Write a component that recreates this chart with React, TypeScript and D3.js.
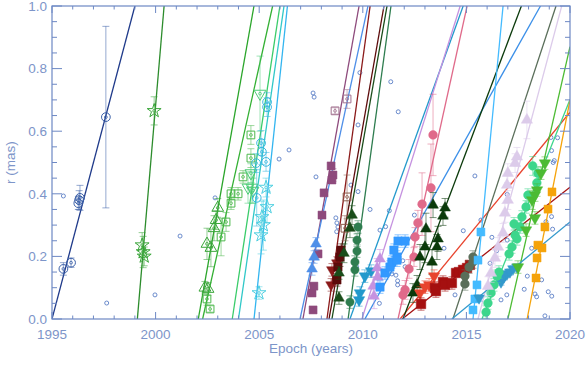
import React from 'react';
import * as d3 from 'd3';

// ---------- tick labels ----------
const xTickYears = [1995, 2000, 2005, 2010, 2015, 2020];
const yTickValues = [0.0, 0.2, 0.4, 0.6, 0.8, 1.0];

// ---------- component positions: [epoch, r (mas), error] ----------
const c01 = [[1995.55,0.16,0.02],[1995.92,0.18,0.015],[1996.27,0.37,0.02],[1996.35,0.387,0.04],[1996.31,0.38,0.03],[1997.6,0.645,0.29]];
const c02 = [[1999.4,0.214,0.05],[1999.35,0.236,0.04],[1999.45,0.2,0.03],[1999.93,0.665,0.045]];
const c03 = [[2002.38,0.10,0.02],[2002.53,0.096,0.02],[2002.48,0.24,0.05],[2002.67,0.227,0.06],[2002.82,0.29,0.04],[2002.92,0.316,0.03],[2003.0,0.355,0.03]];
const c04 = [[2002.63,0.032,0.01],[2002.48,0.064,0.02],[2003.16,0.262,0.06],[2003.4,0.31,0.03],[2003.64,0.37,0.02],[2003.64,0.40,0.02],[2003.98,0.40,0.02],[2004.22,0.454,0.02],[2004.6,0.514,0.03],[2004.6,0.588,0.03]];
const c05 = [[2004.46,0.42,0.05],[2004.65,0.42,0.05],[2004.6,0.466,0.03],[2004.7,0.41,0.04],[2005.04,0.72,0.12]];
const c06 = [[2005.09,0.268,0.06],[2005.13,0.326,0.05],[2005.38,0.358,0.05],[2005.33,0.42,0.03],[2004.99,0.083,0.02],[2005.2,0.30,0.08]];
const c07 = [[2005.38,0.693,0.03],[2005.38,0.677,0.03],[2005.09,0.562,0.04],[2005.13,0.534,0.04],[2005.33,0.502,0.03],[2004.88,0.387,0.09],[2004.85,0.498,0.03]];
const c08 = [[2007.6,0.029,0.01],[2007.55,0.083,0.01],[2007.64,0.105,0.01],[2007.84,0.208,0.01],[2008.03,0.332,0.01],[2008.13,0.403,0.01],[2008.47,0.489,0.01],[2008.56,0.46,0.02],[2008.51,0.444,0.01]];
const c08b = [[2008.66,0.665,0.01],[2009.24,0.703,0.03]];
const c09 = [[2007.55,0.16,0.02],[2007.65,0.198,0.02],[2007.74,0.24,0.02]];
const c10 = [[2008.47,0.109,0.02],[2008.51,0.157,0.02],[2008.75,0.179,0.02]];
const c11 = [[2008.75,0.125,0.02],[2008.8,0.166,0.03],[2008.9,0.198,0.03],[2008.95,0.22,0.02]];
const c11b = [[2009.14,0.29,0.04],[2009.24,0.39,0.07]];
const c12 = [[2008.85,0.067,0.02],[2008.85,0.147,0.02],[2009.09,0.21,0.03],[2009.38,0.29,0.03],[2009.48,0.332,0.03]];
const c13 = [[2009.38,0.054,0.02],[2009.62,0.157,0.02],[2009.62,0.182,0.02],[2009.72,0.217,0.02],[2009.72,0.252,0.02],[2009.77,0.294,0.02]];
const c14 = [[2009.82,0.061,0.02],[2009.86,0.083,0.02],[2010.1,0.137,0.02],[2010.4,0.153,0.02]];
const c15 = [[2010.54,0.073,0.04],[2010.5,0.105,0.03],[2010.69,0.163,0.03],[2010.73,0.134,0.03],[2010.83,0.192,0.03]];
const c16 = [[2010.83,0.102,0.02],[2011.07,0.147,0.02],[2011.31,0.166,0.02],[2011.4,0.182,0.02],[2011.65,0.198,0.02],[2011.65,0.188,0.02],[2011.7,0.249,0.02],[2012.04,0.249,0.02],[2011.5,0.22,0.02]];
const c17 = [[2011.94,0.077,0.03],[2012.04,0.093,0.03],[2012.23,0.16,0.03],[2012.47,0.198,0.03],[2012.52,0.262,0.03],[2012.66,0.307,0.04],[2012.86,0.367,0.1],[2013.29,0.419,0.14],[2013.39,0.588,0.13]];
const c18 = [[2012.42,0.083,0.03],[2012.62,0.109,0.03],[2012.76,0.198,0.04],[2013.0,0.23,0.05],[2013.05,0.288,0.05],[2013.34,0.182,0.04],[2013.39,0.364,0.04],[2013.58,0.23,0.04],[2013.63,0.256,0.04],[2013.87,0.329,0.03],[2013.97,0.355,0.03]];
const c19 = [[2012.76,0.083,0.02],[2013.0,0.102,0.02],[2013.2,0.109,0.02],[2013.44,0.137,0.02]];
const c20 = [[2012.81,0.048,0.02],[2013.48,0.099,0.02],[2013.53,0.089,0.02],[2013.87,0.118,0.02],[2013.97,0.109,0.02],[2014.3,0.115,0.02],[2014.5,0.147,0.01],[2014.64,0.15,0.01],[2014.84,0.157,0.01],[2015.03,0.163,0.01],[2015.17,0.173,0.01]];
const c21 = [[2014.93,0.112,0.02],[2014.93,0.137,0.02],[2015.13,0.166,0.02],[2015.32,0.182,0.02],[2015.32,0.198,0.02]];
const c22 = [[2015.32,0.029,0.01],[2015.41,0.064,0.01],[2015.51,0.109,0.01],[2015.56,0.188,0.01],[2015.7,0.278,0.01]];
const c23 = [[2015.61,0.067,0.01],[2016.67,0.118,0.01],[2016.81,0.134,0.01],[2016.86,0.141,0.01],[2016.96,0.144,0.01],[2017.1,0.15,0.01],[2017.25,0.16,0.01],[2017.44,0.166,0.01]];
const c24 = [[2015.95,0.022,0.02],[2016.04,0.051,0.02],[2016.19,0.083,0.02],[2016.33,0.109,0.02],[2016.48,0.137,0.02],[2016.57,0.15,0.02],[2017.06,0.208,0.02],[2017.2,0.23,0.02],[2017.35,0.268,0.02],[2017.44,0.256,0.02],[2017.3,0.304,0.02],[2017.59,0.294,0.02],[2017.68,0.326,0.02],[2017.88,0.358,0.02],[2017.97,0.396,0.02],[2018.2,0.489,0.03],[2018.4,0.435,0.02],[2018.45,0.466,0.02]];
const c25 = [[2016.04,0.105,0.03],[2016.19,0.147,0.03],[2016.38,0.195,0.03],[2016.53,0.23,0.03],[2016.77,0.275,0.03],[2016.86,0.339,0.03],[2017.0,0.38,0.03],[2016.96,0.428,0.03],[2017.0,0.466,0.03],[2017.35,0.498,0.03],[2017.44,0.518,0.03],[2017.92,0.636,0.06]];
const c26 = [[2017.49,0.166,0.02],[2017.88,0.284,0.02],[2018.31,0.323,0.02],[2018.17,0.38,0.03],[2018.31,0.396,0.02],[2018.41,0.412,0.02],[2018.6,0.466,0.02],[2018.79,0.498,0.02]];
const c27 = [[2018.36,0.131,0.01],[2018.41,0.195,0.01],[2018.45,0.236,0.01],[2018.65,0.227,0.01],[2018.79,0.294,0.01],[2018.94,0.351,0.01],[2019.13,0.406,0.01]];

// unidentified features: [epoch, r]
const unassigned = [
  [1995.55,0.393],[1997.64,0.051],[1999.97,0.077],[2001.18,0.265],[2002.87,0.387],
  [2005.96,0.511],[2006.44,0.54],[2007.6,0.722],[2007.65,0.709],[2007.74,0.454],
  [2008.7,0.323],[2008.75,0.307],[2008.8,0.294],[2008.74,0.279],[2009.86,0.787],
  [2009.77,0.62],[2009.43,0.428],[2009.77,0.407],[2011.35,0.758],[2011.71,0.662],
  [2010.35,0.35],[2010.83,0.284],[2011.1,0.295],[2011.28,0.346],[2009.7,0.167],
  [2011.4,0.144],[2011.6,0.14],[2011.68,0.122],[2011.68,0.109],[2012.04,0.167],
  [2011.93,0.186],[2012.49,0.332],[2010.8,0.05],[2015.41,0.457],[2014.85,0.282],
  [2014.45,0.077],[2016.23,0.261],[2015.7,0.316],[2016.14,0.178],[2016.46,0.218],
  [2016.97,0.398],[2016.67,0.061],[2016.95,0.077],[2017.79,0.095],[2017.94,0.137],
  [2018.31,0.08],[2018.39,0.071],[2018.84,0.311],[2019.08,0.58],[2019.11,0.538],
  [2019.19,0.5],[2019.24,0.506],[2019.4,0.579],[2019.11,0.327],[2019.16,0.287],
  [2018.63,0.125],[2018.95,0.087],[2019.12,0.073],[2018.79,0.01],[2018.15,0.226],
  [2016.97,0.252],[2013.92,0.226]
];

// ---------- linear fits: [ejection epoch t0, speed (mas/yr)] ----------
const fitT0 = [1995.0,1999.12,2002.06,2002.27,2003.7,2004.0,2004.75,2007.11,2006.97,2008.27,2008.37,2008.51,2009.29,2009.38,2009.96,2010.1,2011.7,2011.8,2011.9,2011.94,2014.35,2015.32,2015.56,2015.75,2017.0,2017.93,2014.3];
const fitSpeed = [0.25,0.775,0.372,0.296,0.435,0.455,0.62,0.369,0.305,0.48,0.377,0.376,0.483,0.183,0.211,0.118,0.30,0.0806,0.052,0.175,0.201,0.69,0.2475,0.165,0.29,0.338,0.0544];
const fitColor = ['#1f3a8a','#2c8c2c','#2aa52a','#33b033','#3acc6a','#30c8c8','#33b5f0','#8e4a7c','#4f8fe8','#8b1a1a','#5c0b0b','#1a4d1a','#2e7d4f','#2299cc','#c592e0','#3b8fe8','#e06a8a','#e8442e','#a51010','#0b3a0b','#5a6e5a','#44bbff','#dccbea','#3dd68c','#4cbb33','#f5a30a','#3399cc'];

// ---------- marker styles ----------
type Style = { data: number[][]; color: string; shape: string; filled: boolean; size: number };
const series: Style[] = [
  { data: c01, color: '#3a5fa8', shape: 'circle', filled: false, size: 60 },
  { data: c02, color: '#3aa63a', shape: 'star', filled: false, size: 60 },
  { data: c03, color: '#3aa63a', shape: 'up', filled: false, size: 60 },
  { data: c04, color: '#4cb84c', shape: 'square', filled: false, size: 60 },
  { data: c05, color: '#4dcc77', shape: 'down', filled: false, size: 60 },
  { data: c06, color: '#4ccfe0', shape: 'star', filled: false, size: 60 },
  { data: c07, color: '#3ab8e0', shape: 'circle', filled: false, size: 60 },
  { data: c08, color: '#8e4a7c', shape: 'square', filled: true, size: 64 },
  { data: c08b, color: '#a0708e', shape: 'square', filled: false, size: 60 },
  { data: c09, color: '#4f8fe8', shape: 'up', filled: true, size: 50 },
  { data: c10, color: '#8b1a1a', shape: 'down', filled: true, size: 50 },
  { data: c11, color: '#5c0b0b', shape: 'square', filled: true, size: 70 },
  { data: c11b, color: '#8b5a4a', shape: 'square', filled: false, size: 60 },
  { data: c12, color: '#1a4d1a', shape: 'up', filled: true, size: 50 },
  { data: c13, color: '#2e7d4f', shape: 'circle', filled: true, size: 55 },
  { data: c14, color: '#2299cc', shape: 'down', filled: true, size: 55 },
  { data: c15, color: '#c592e0', shape: 'up', filled: true, size: 50 },
  { data: c16, color: '#3399ff', shape: 'square', filled: true, size: 70 },
  { data: c17, color: '#e06a8a', shape: 'circle', filled: true, size: 60 },
  { data: c18, color: '#0b3a0b', shape: 'up', filled: true, size: 50 },
  { data: c19, color: '#e8442e', shape: 'down', filled: true, size: 55 },
  { data: c20, color: '#a51010', shape: 'square', filled: true, size: 90 },
  { data: c21, color: '#5a6e5a', shape: 'circle', filled: true, size: 60 },
  { data: c22, color: '#44bbff', shape: 'square', filled: true, size: 64 },
  { data: c23, color: '#3399cc', shape: 'down', filled: true, size: 50 },
  { data: c24, color: '#3dd68c', shape: 'circle', filled: true, size: 60 },
  { data: c25, color: '#dccbea', shape: 'up', filled: true, size: 55 },
  { data: c26, color: '#4cbb33', shape: 'down', filled: true, size: 55 },
  { data: c27, color: '#f5a30a', shape: 'square', filled: true, size: 64 },
];

const W = 587, H = 365;
const PL = 52, PR = 570, PT = 6, PB = 319;
const axisColor = '#6d88c4';
const textColor = '#7d95c9';
const font = 'Liberation Sans, Arial, Helvetica, sans-serif';

export default function App() {
  const x = d3.scaleLinear().domain([1995, 2020]).range([PL, PR]);
  const y = d3.scaleLinear().domain([0, 1]).range([PB, PT]);

  const symType = (s: string) =>
    s === 'circle' ? d3.symbolCircle : s === 'square' ? d3.symbolSquare : s === 'star' ? d3.symbolStar : d3.symbolTriangle;

  const xMinor = d3.range(1995, 2021, 1);
  const yMinor = d3.range(0, 1.0001, 0.05);
  const line = d3.line<number[]>().x(d => x(d[0])).y(d => y(d[1]));

  return (
    <svg width={W} height={H} style={{ position: 'absolute', left: 0, top: 0, background: '#fff' }}>
      <defs>
        <clipPath id="plotclip">
          <rect x={PL} y={PT} width={PR - PL} height={PB - PT} />
        </clipPath>
      </defs>

      <g clipPath="url(#plotclip)">
        {unassigned.map((d, i) => (
          <circle key={'u' + i} cx={x(d[0])} cy={y(d[1])} r={2} fill="none" stroke="#5b7fc6" strokeWidth={0.9} />
        ))}

        {fitT0.map((t0, i) => {
          const mu = fitSpeed[i];
          const tEnd = Math.min(t0 + 1 / mu, 2020);
          const pts = [[t0, 0], [tEnd, mu * (tEnd - t0)]];
          return <path key={'f' + i} d={line(pts) || ''} stroke={fitColor[i]} strokeWidth={1.3} fill="none" />;
        })}

        {series.map((s, si) => (
          <g key={'s' + si}>
            {s.data.map((d, i) => {
              const cx = x(d[0]);
              const y1 = y(d[1] - d[2]);
              const y2 = y(d[1] + d[2]);
              return (
                <g key={'e' + i} stroke={s.color} strokeOpacity={0.6} strokeWidth={0.9}>
                  <line x1={cx} x2={cx} y1={y1} y2={y2} />
                  <line x1={cx - 3.5} x2={cx + 3.5} y1={y1} y2={y1} />
                  <line x1={cx - 3.5} x2={cx + 3.5} y1={y2} y2={y2} />
                </g>
              );
            })}
            {s.data.map((d, i) => {
              const cx = x(d[0]);
              const cy = y(d[1]);
              const p = d3.symbol().type(symType(s.shape)).size(s.size)() || '';
              const rot = s.shape === 'down' ? ' rotate(180)' : '';
              return (
                <g key={'m' + i} transform={`translate(${cx},${cy})${rot}`}>
                  <path
                    d={p}
                    fill={s.filled ? s.color : 'none'}
                    stroke={s.color}
                    strokeWidth={s.filled ? 0.5 : 1}
                  />
                  {!s.filled && <circle r={1.4} fill="none" stroke={s.color} strokeWidth={0.8} />}
                </g>
              );
            })}
          </g>
        ))}
      </g>

      {/* frame */}
      <rect x={PL} y={PT} width={PR - PL} height={PB - PT} fill="none" stroke={axisColor} strokeWidth={1.2} />

      {/* x ticks (bottom and top) */}
      {xMinor.map(v => {
        const major = v % 5 === 0;
        const len = major ? 7 : 3.5;
        return (
          <g key={'xt' + v} stroke={axisColor} strokeWidth={1}>
            <line x1={x(v)} x2={x(v)} y1={PB} y2={PB - len} />
            <line x1={x(v)} x2={x(v)} y1={PT} y2={PT + len} />
          </g>
        );
      })}
      {/* y ticks (left and right) */}
      {yMinor.map((v, i) => {
        const major = i % 4 === 0;
        const len = major ? 10 : 5;
        return (
          <g key={'yt' + i} stroke={axisColor} strokeWidth={1}>
            <line x1={PL} x2={PL + len} y1={y(v)} y2={y(v)} />
            <line x1={PR} x2={PR - len} y1={y(v)} y2={y(v)} />
          </g>
        );
      })}

      {xTickYears.map(v => (
        <text key={'xl' + v} x={x(v)} y={PB + 20} textAnchor="middle" fontFamily={font} fontSize={13.5} fill={textColor}>
          {v}
        </text>
      ))}
      {yTickValues.map(v => (
        <text key={'yl' + v} x={PL - 5} y={y(v)} dy="0.35em" textAnchor="end" fontFamily={font} fontSize={13.5} fill={textColor}>
          {v.toFixed(1)}
        </text>
      ))}

      <text x={(PL + PR) / 2} y={PB + 34} textAnchor="middle" fontFamily={font} fontSize={13.5} fill={textColor}>
        Epoch (years)
      </text>
      <text
        transform={`translate(${PL - 37},${(PT + PB) / 2}) rotate(-90)`}
        textAnchor="middle"
        fontFamily={font}
        fontSize={13.5}
        fill={textColor}
      >
        r (mas)
      </text>
    </svg>
  );
}
